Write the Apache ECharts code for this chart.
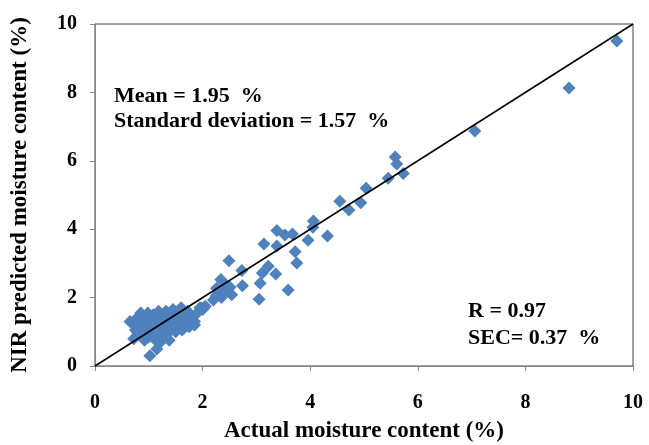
<!DOCTYPE html>
<html><head><meta charset="utf-8">
<script src="https://cdn.jsdelivr.net/npm/echarts@6/dist/echarts.min.js"></script>
<style>html,body{margin:0;padding:0;background:#fff}#c{width:649px;height:445px}</style>
</head><body><div id="c"></div>
<script>
const xTicks = [0, 2, 4, 6, 8, 10];
const yTicks = [0, 2, 4, 6, 8, 10];
// actual moisture content (%)
const actual = [
 0.65,0.70,0.72,0.75,0.78,0.80,0.82,0.85,0.85,0.88,0.90,0.90,0.92,0.95,0.95,0.98,1.00,1.00,1.02,1.05,
 1.05,1.08,1.10,1.10,1.12,1.15,1.18,1.20,1.20,1.22,1.25,1.25,1.28,1.30,1.32,1.35,1.35,1.38,1.40,1.42,
 1.45,1.48,1.50,1.52,1.55,1.58,1.60,1.62,1.65,1.68,1.70,1.72,1.75,1.80,1.85,1.02,1.15,1.90,1.95,2.00,
 2.05,1.85,2.01,1.98,2.20,2.25,2.29,2.26,2.34,2.40,2.45,2.51,2.54,2.49,2.73,2.74,2.35,
 3.05,3.07,3.11,3.14,3.22,3.36,3.38,3.38,3.53,3.59,3.67,3.72,3.75,3.96,4.05,4.06,4.32,
 4.55,4.72,4.94,5.04,5.45,5.58,5.61,5.73,7.06,8.81,9.70
];
// NIR predicted moisture content (%)
const predicted = [
 1.30,1.25,0.80,1.05,1.40,0.95,1.15,1.55,1.30,0.90,1.45,1.10,0.75,1.25,1.00,1.55,1.40,0.85,1.15,1.30,
 0.95,1.50,1.20,0.80,1.05,1.40,1.60,1.25,0.95,0.70,1.50,1.10,0.85,1.35,1.60,1.20,0.95,0.75,1.45,1.10,
 1.65,1.30,1.00,1.55,1.20,1.40,1.70,1.05,1.50,1.25,1.35,1.60,1.15,1.45,1.30,0.30,0.50,1.55,1.70,1.65,
 1.75,1.20,1.69,1.69,1.93,2.05,2.13,2.27,2.53,2.20,2.35,2.30,2.08,3.08,2.79,2.35,2.00,
 1.95,2.42,2.72,3.57,2.92,2.69,3.96,3.51,3.83,2.22,3.86,3.34,3.01,3.68,4.06,4.24,3.80,
 4.82,4.56,4.77,5.20,5.49,6.11,5.91,5.63,6.87,8.13,9.50
];
const lineX = [0, 10];
const lineY = [0, 10];

const pts = actual.map((v, i) => [v, predicted[i]]);
const font = '"Liberation Serif","Times New Roman",serif';
const chart = echarts.init(document.getElementById('c'), null, {renderer: 'canvas'});
chart.setOption({
  animation: false,
  grid: {left: 95, right: 16, top: 24, bottom: 79, show: true, borderColor: '#404040', borderWidth: 1,
         containLabel: false, outerBoundsMode: 'none'},
  xAxis: {
    type: 'value', min: xTicks[0], max: xTicks[xTicks.length-1], interval: 2,
    splitLine: {show: false},
    axisLine: {lineStyle: {color: '#888', width: 1}},
    axisTick: {show: true, inside: false, length: 5, lineStyle: {color: '#888'}},
    axisLabel: {fontFamily: font, fontWeight: 'bold', fontSize: 20, color: '#000', margin: 27},
    name: 'Actual moisture content (%)', nameLocation: 'middle', nameGap: 54,
    nameTextStyle: {fontFamily: font, fontWeight: 'bold', fontSize: 23, color: '#000'}
  },
  yAxis: {
    type: 'value', min: yTicks[0], max: yTicks[yTicks.length-1], interval: 2,
    splitLine: {show: false},
    axisLine: {lineStyle: {color: '#888', width: 1}},
    axisTick: {show: true, inside: false, length: 5, lineStyle: {color: '#888'}},
    axisLabel: {fontFamily: font, fontWeight: 'bold', fontSize: 20, color: '#000', margin: 18},
    name: 'NIR predicted moisture content (%)', nameLocation: 'middle', nameGap: 63,
    nameTextStyle: {fontFamily: font, fontWeight: 'bold', fontSize: 23, color: '#000'}
  },
  series: [
    {type: 'scatter', data: pts, symbol: 'diamond', symbolSize: 13,
     itemStyle: {color: '#4F81BD', opacity: 1}, z: 2},
    {type: 'line', data: lineX.map((v, i) => [v, lineY[i]]), symbol: 'none',
     lineStyle: {color: '#000', width: 1.5}, z: 3}
  ],
  graphic: [
    {type: 'text', x: 114, y: 96, style: {text: 'Mean = 1.95  %', font: 'bold 22px ' + font, fill: '#000', verticalAlign: 'middle'}},
    {type: 'text', x: 114, y: 121, style: {text: 'Standard deviation = 1.57  %', font: 'bold 22px ' + font, fill: '#000', verticalAlign: 'middle'}},
    {type: 'text', x: 468, y: 311, style: {text: 'R = 0.97', font: 'bold 22px ' + font, fill: '#000', verticalAlign: 'middle'}},
    {type: 'text', x: 468, y: 338, style: {text: 'SEC= 0.37  %', font: 'bold 22px ' + font, fill: '#000', verticalAlign: 'middle'}}
  ]
});
</script></body></html>
